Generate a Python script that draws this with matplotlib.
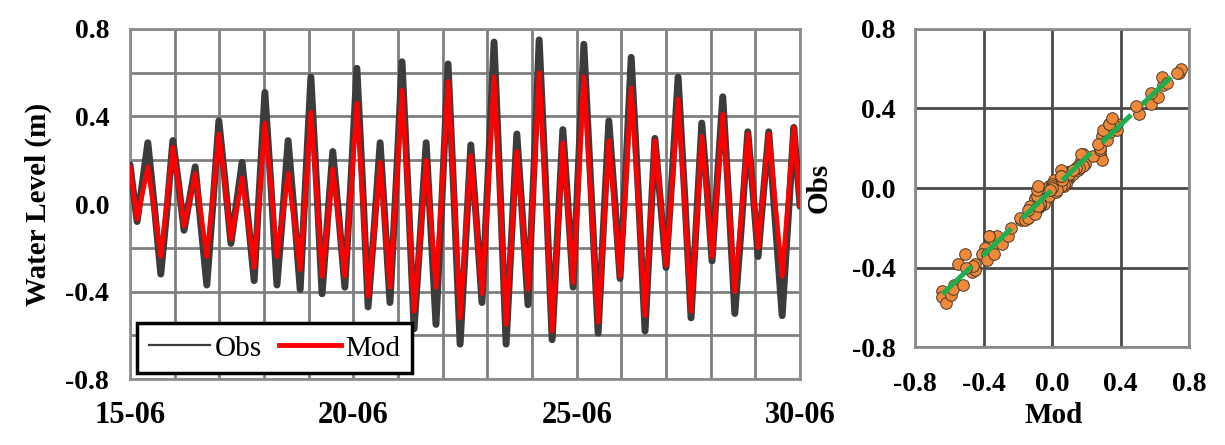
import matplotlib
matplotlib.use("Agg")
import matplotlib.pyplot as plt
from matplotlib.lines import Line2D
import numpy as np

plt.rcParams['font.family'] = ['Liberation Serif', 'DejaVu Serif']

# temps en jours depuis le 15-06 (pleines mers, basses mers et mi-marees)
t_days = [0.00, 0.08, 0.16, 0.28, 0.40, 0.55, 0.69, 0.83, 0.96, 1.09,
          1.21, 1.34, 1.46, 1.59, 1.72, 1.86, 1.99, 2.13, 2.26, 2.39,
          2.51, 2.65, 2.78, 2.90, 3.02, 3.16, 3.29, 3.42, 3.54, 3.68,
          3.81, 3.93, 4.05, 4.18, 4.30, 4.42, 4.54, 4.68, 4.81, 4.95,
          5.08, 5.21, 5.33, 5.47, 5.60, 5.71, 5.82, 5.96, 6.09, 6.23,
          6.36, 6.50, 6.63, 6.74, 6.85, 6.99, 7.12, 7.26, 7.39, 7.51,
          7.63, 7.76, 7.88, 8.02, 8.15, 8.29, 8.42, 8.54, 8.66, 8.79,
          8.91, 9.04, 9.16, 9.31, 9.45, 9.57, 9.69, 9.81, 9.92, 10.04,
          10.16, 10.32, 10.48, 10.60, 10.72, 10.85, 10.97, 11.10, 11.22, 11.38,
          11.53, 11.64, 11.75, 11.88, 12.00, 12.14, 12.27, 12.42, 12.56, 12.68,
          12.80, 12.92, 13.03, 13.15, 13.27, 13.41, 13.54, 13.69, 13.83, 13.95,
          14.06, 14.18, 14.30, 14.45, 14.60, 14.73, 14.86, 14.93, 15.00]

# niveau observe (m)
obs = [0.18, 0.05, -0.08, 0.10, 0.28, -0.02, -0.32, -0.02, 0.29, 0.09,
       -0.12, 0.03, 0.17, -0.10, -0.37, 0.01, 0.38, 0.10, -0.18, 0.01,
       0.19, -0.08, -0.35, 0.08, 0.51, 0.07, -0.37, -0.04, 0.29, -0.05,
       -0.39, 0.10, 0.58, 0.08, -0.41, -0.08, 0.24, -0.07, -0.38, 0.12,
       0.62, 0.08, -0.47, -0.10, 0.28, -0.08, -0.45, 0.10, 0.65, 0.04,
       -0.57, -0.14, 0.28, -0.13, -0.55, 0.05, 0.64, 0.00, -0.64, -0.19,
       0.27, -0.09, -0.45, 0.15, 0.74, 0.05, -0.64, -0.16, 0.32, -0.07,
       -0.46, 0.15, 0.75, 0.07, -0.62, -0.14, 0.34, -0.02, -0.38, 0.18,
       0.73, 0.07, -0.59, -0.10, 0.38, 0.02, -0.34, 0.16, 0.67, 0.05,
       -0.58, -0.14, 0.30, 0.00, -0.29, 0.14, 0.58, 0.03, -0.52, -0.08,
       0.37, 0.06, -0.26, 0.12, 0.49, 0.00, -0.50, -0.09, 0.33, 0.05,
       -0.24, 0.05, 0.33, -0.09, -0.51, -0.08, 0.35, 0.17, -0.01]

# niveau modelise (m)
mod = [0.17, 0.05, -0.07, 0.05, 0.17, -0.04, -0.24, 0.01, 0.26, 0.08,
       -0.10, 0.02, 0.14, -0.05, -0.24, 0.04, 0.32, 0.08, -0.16, -0.02,
       0.12, -0.09, -0.29, 0.04, 0.37, 0.07, -0.24, -0.05, 0.14, -0.08,
       -0.30, 0.06, 0.42, 0.05, -0.33, -0.09, 0.16, -0.09, -0.33, 0.07,
       0.46, 0.02, -0.42, -0.12, 0.19, -0.10, -0.38, 0.07, 0.52, 0.02,
       -0.49, -0.15, 0.20, -0.09, -0.38, 0.09, 0.56, 0.02, -0.52, -0.15,
       0.22, -0.10, -0.41, 0.09, 0.58, 0.02, -0.55, -0.16, 0.24, -0.08,
       -0.39, 0.11, 0.60, 0.01, -0.58, -0.15, 0.28, -0.04, -0.36, 0.11,
       0.58, 0.02, -0.54, -0.13, 0.29, -0.02, -0.33, 0.10, 0.53, 0.01,
       -0.51, -0.11, 0.29, 0.01, -0.28, 0.10, 0.48, -0.01, -0.49, -0.09,
       0.31, 0.04, -0.24, 0.09, 0.41, 0.00, -0.40, -0.04, 0.32, 0.06,
       -0.20, 0.06, 0.32, -0.01, -0.33, 0.01, 0.35, 0.17, -0.01]

date_ticks = [0, 5, 10, 15]
date_labels = ["15-06", "20-06", "25-06", "30-06"]
level_ticks = [-0.8, -0.4, 0.0, 0.4, 0.8]

fig = plt.figure(figsize=(12.25, 4.45), dpi=100)
ax1 = fig.add_axes([0.1061, 0.148, 0.547, 0.787])
ax2 = fig.add_axes([0.747, 0.220, 0.2237, 0.715])

# --- serie temporelle ---
ax1.plot(t_days, obs, color='#3c3c3c', lw=5.0, solid_joinstyle='round',
         solid_capstyle='round', zorder=3)
ax1.plot(t_days, mod, color='#ff0000', lw=3.4, solid_joinstyle='round',
         solid_capstyle='round', zorder=4)
ax1.set_xlim(0, 15)
ax1.set_ylim(-0.8, 0.8)
ax1.set_xticks(date_ticks)
ax1.set_xticklabels(date_labels)
ax1.set_xticks(np.arange(0, 16, 1), minor=True)
ax1.set_yticks(level_ticks)
ax1.set_yticklabels(["%.1f" % v for v in level_ticks])
ax1.set_yticks(np.arange(-0.8, 0.81, 0.2), minor=True)
ax1.grid(True, which='both', color='#7f7f7f', lw=2.0, zorder=0)
ax1.set_axisbelow(True)
ax1.tick_params(which='both', length=0)
ax1.tick_params(axis='x', pad=16, labelsize=22)
ax1.tick_params(axis='y', pad=15, labelsize=20)
for lab in ax1.get_xticklabels() + ax1.get_yticklabels():
    lab.set_fontweight('bold')
ax1.set_ylabel("Water Level (m)", fontsize=21, fontweight='bold')
ax1.yaxis.set_label_coords(-0.116, 0.5)
for s in ax1.spines.values():
    s.set_color('#8c8c8c')
    s.set_linewidth(2)

handles = [Line2D([], [], color='#3c3c3c', lw=1.6),
           Line2D([], [], color='#ff0000', lw=3.5)]
leg = ax1.legend(handles, ["Obs", "Mod"], ncol=2, loc='lower left',
                 bbox_to_anchor=(0.011, 0.017), borderaxespad=0,
                 fontsize=21, frameon=True, fancybox=False,
                 handlelength=2.1, handletextpad=0.15, columnspacing=0.6,
                 borderpad=0.4, framealpha=1)
leg.get_frame().set_edgecolor('black')
leg.get_frame().set_linewidth(2.5)
leg.set_zorder(10)

# --- nuage de points ---
fit = np.polyfit(obs, mod, 1)
xfit = np.array([min(obs), max(obs)])
ax2.scatter(obs, mod, s=70, color='#f0883a', edgecolor='#4a3a2a',
            linewidth=0.7, zorder=3)
ax2.plot(xfit, np.polyval(fit, xfit), color='#1fae4f', lw=3.6,
         dashes=(8, 3), zorder=4)
ax2.set_xlim(-0.8, 0.8)
ax2.set_ylim(-0.8, 0.8)
ax2.set_xticks(level_ticks)
ax2.set_yticks(level_ticks)
ax2.set_xticklabels(["%.1f" % v for v in level_ticks])
ax2.set_yticklabels(["%.1f" % v for v in level_ticks])
ax2.grid(True, color='#4a4a4a', lw=2.0, zorder=0)
ax2.set_axisbelow(True)
ax2.tick_params(length=0, labelsize=20)
ax2.tick_params(axis='x', pad=18)
ax2.tick_params(axis='y', pad=14)
for lab in ax2.get_xticklabels() + ax2.get_yticklabels():
    lab.set_fontweight('bold')
ax2.set_xlabel("Mod", fontsize=21, fontweight='bold')
ax2.set_ylabel("Obs", fontsize=21, fontweight='bold')
ax2.xaxis.set_label_coords(0.504, -0.173)
ax2.yaxis.set_label_coords(-0.30, 0.5)
for s in ax2.spines.values():
    s.set_color('#8c8c8c')
    s.set_linewidth(2)

fig.savefig("out.png", dpi=100)
